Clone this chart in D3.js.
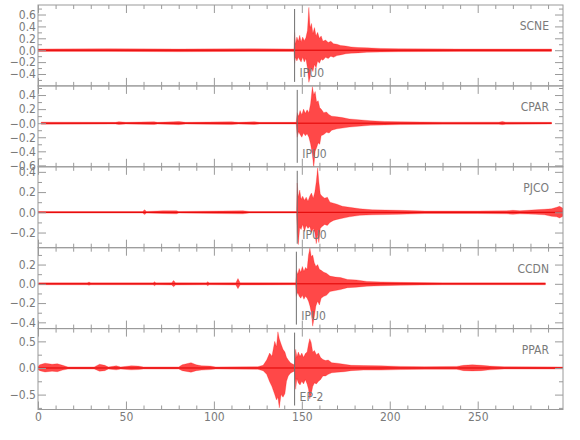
<!DOCTYPE html>
<html>
<head>
<meta charset="utf-8">
<script src="https://cdn.jsdelivr.net/npm/d3@7"></script>
<style>
  html, body { margin: 0; padding: 0; background: #fff; }
  svg { display: block; }
</style>
</head>
<body>
<script>
// station names and pick info, top to bottom
const stations = ["SCNE", "CPAR", "PJCO", "CCDN", "PPAR"];
const pickTimes = [145.9, 147.4, 147.4, 146.9, 145.9];
const pickLabels = ["IPU0", "IPU0", "IPU0", "IPU0", "EP-2"];

// y ranges and ticks of each panel
const yRanges = [[-0.6, 0.76], [-0.62, 0.53], [-0.35, 0.45], [-0.465, 0.375], [-0.78, 0.74]];
const yMajor = [
  [0.6, 0.4, 0.2, 0, -0.2, -0.4],
  [0.4, 0.2, 0, -0.2, -0.4, -0.6],
  [0.4, 0.2, 0, -0.2],
  [0.2, 0, -0.2, -0.4],
  [0.5, 0, -0.5]
];
const yTickLabels = [
  ["0.6", "0.4", "0.2", "0.0", "\u22120.2", "\u22120.4"],
  ["0.4", "0.2", "\u22120.0", "\u22120.2", "\u22120.4", "\u22120.6"],
  ["0.4", "0.2", "0.0", "\u22120.2"],
  ["0.2", "0.0", "\u22120.2", "\u22120.4"],
  ["0.5", "0.0", "\u22120.5"]
];
const yMinorStep = [0.1, 0.1, 0.1, 0.1, 0.25];

const xMajor = [0, 50, 100, 150, 200, 250];
const xTickLabels = ["0", "50", "100", "150", "200", "250"];

// trace envelopes: [time s, upper, lower]
const scne = [
  [0, 0.02, -0.02], [40, 0.025, -0.02], [80, 0.02, -0.025], [120, 0.025, -0.02], [145.5, 0.02, -0.02],
  [145.9, 0.3, -0.22], [146.4, 0.1, -0.12], [147.2, 0.22, -0.18], [148, 0.15, -0.12], [148.8, 0.25, -0.16],
  [149.6, 0.14, -0.2], [150.5, 0.22, -0.12], [151.4, 0.16, -0.2], [152.3, 0.21, -0.14], [153.2, 0.33, -0.3],
  [154, 0.72, -0.54], [154.7, 0.38, -0.46], [155.5, 0.45, -0.3], [156.3, 0.28, -0.36], [157.2, 0.38, -0.24],
  [158.1, 0.24, -0.3], [159, 0.3, -0.18], [160, 0.2, -0.22], [161, 0.24, -0.15], [162, 0.15, -0.17],
  [163.5, 0.17, -0.12], [165, 0.13, -0.14], [166.5, 0.15, -0.1], [168, 0.11, -0.12], [170, 0.1, -0.09],
  [172, 0.08, -0.08], [175, 0.07, -0.06], [178, 0.055, -0.05], [182, 0.045, -0.045], [187, 0.04, -0.035],
  [195, 0.03, -0.03], [205, 0.025, -0.025], [240, 0.02, -0.02], [292, 0.02, -0.02]
];
const cpar = [
  [1.8, 0.015, -0.015], [44, 0.012, -0.012], [46, 0.022, -0.02], [50, 0.012, -0.012], [66, 0.02, -0.02],
  [68, 0.012, -0.012], [77, 0.02, -0.018], [80, 0.025, -0.022], [84, 0.012, -0.012], [110, 0.02, -0.02],
  [114, 0.012, -0.012], [123, 0.02, -0.018], [126, 0.012, -0.012], [146.8, 0.012, -0.012],
  [147.4, 0.15, -0.2], [148.2, 0.1, -0.12], [149, 0.18, -0.16], [150, 0.12, -0.2], [151, 0.2, -0.14],
  [152, 0.14, -0.18], [153, 0.19, -0.15], [154, 0.15, -0.2], [155, 0.28, -0.3], [156, 0.52, -0.45],
  [156.8, 0.4, -0.63], [157.6, 0.45, -0.4], [158.4, 0.3, -0.35], [159.3, 0.32, -0.28], [160.2, 0.22, -0.3],
  [161, 0.2, -0.18], [162.5, 0.15, -0.16], [164, 0.16, -0.13], [165.5, 0.12, -0.14], [167, 0.1, -0.1],
  [170, 0.09, -0.08], [173, 0.08, -0.07], [177, 0.06, -0.055], [182, 0.05, -0.045], [189, 0.035, -0.03],
  [197, 0.025, -0.025], [206, 0.02, -0.02], [230, 0.015, -0.015], [262, 0.015, -0.015], [264, 0.025, -0.022],
  [266, 0.015, -0.015], [292, 0.012, -0.012]
];
const pjco = [
  [0, 0.008, -0.008], [59.5, 0.008, -0.008], [60.6, 0.025, -0.022], [61.7, 0.008, -0.008], [71, 0.015, -0.012],
  [78.8, 0.015, -0.015], [80, 0.008, -0.008], [116.5, 0.015, -0.015], [120, 0.008, -0.008], [147, 0.008, -0.008],
  [147.4, 0.29, -0.2], [148, 0.15, -0.32], [148.8, 0.22, -0.15], [149.6, 0.13, -0.17], [150.5, 0.16, -0.12],
  [151.5, 0.12, -0.19], [152.5, 0.15, -0.13], [153.5, 0.11, -0.16], [154.5, 0.16, -0.14], [155.5, 0.19, -0.2],
  [156.5, 0.14, -0.16], [157.4, 0.2, -0.2], [158.2, 0.3, -0.31], [159, 0.44, -0.22], [159.7, 0.3, -0.3],
  [160.5, 0.18, -0.16], [161.5, 0.16, -0.14], [163, 0.14, -0.12], [164.5, 0.15, -0.13], [166, 0.1, -0.1],
  [168, 0.09, -0.08], [170, 0.08, -0.07], [173, 0.06, -0.06], [177, 0.05, -0.045], [183, 0.035, -0.03],
  [190, 0.025, -0.025], [205, 0.02, -0.02], [220, 0.012, -0.012], [250, 0.012, -0.012], [266.5, 0.015, -0.015],
  [270, 0.02, -0.02], [274, 0.015, -0.015], [283, 0.025, -0.02], [288, 0.03, -0.025], [292, 0.035, -0.04],
  [295, 0.05, -0.045], [296.5, 0.06, -0.056], [298.5, 0.04, -0.04]
];
const ccdn = [
  [0.3, 0.01, -0.01], [28, 0.01, -0.01], [29, 0.018, -0.015], [30, 0.01, -0.01], [65.5, 0.01, -0.01],
  [66.3, 0.022, -0.02], [67, 0.01, -0.01], [76, 0.012, -0.012], [77.1, 0.035, -0.03], [78.2, 0.012, -0.012],
  [95.7, 0.01, -0.01], [96.5, 0.022, -0.02], [97.3, 0.01, -0.01], [112.5, 0.012, -0.012], [113.7, 0.055, -0.05],
  [114.9, 0.012, -0.012], [146.5, 0.01, -0.01],
  [146.9, 0.14, -0.13], [147.7, 0.1, -0.09], [148.5, 0.16, -0.13], [149.4, 0.12, -0.15], [150.3, 0.18, -0.12],
  [151.2, 0.13, -0.16], [152.1, 0.17, -0.13], [153, 0.15, -0.15], [153.8, 0.3, -0.18], [154.6, 0.37, -0.23],
  [155.4, 0.28, -0.3], [156.2, 0.3, -0.44], [157.1, 0.22, -0.34], [158, 0.18, -0.23], [159, 0.2, -0.18],
  [160, 0.15, -0.22], [161, 0.14, -0.15], [162.5, 0.12, -0.13], [164, 0.11, -0.12], [166, 0.08, -0.08],
  [169, 0.07, -0.07], [172, 0.065, -0.06], [176, 0.045, -0.04], [181, 0.04, -0.035], [187, 0.025, -0.025],
  [195, 0.02, -0.02], [206, 0.015, -0.015], [230, 0.01, -0.01], [288.5, 0.01, -0.01]
];
const ppar = [
  [0, 0.03, -0.03], [1, 0.06, -0.05], [4, 0.09, -0.075], [8, 0.07, -0.06], [11, 0.08, -0.07], [14, 0.05, -0.04],
  [17, 0.02, -0.02], [32, 0.02, -0.02], [35, 0.07, -0.06], [38, 0.05, -0.05], [40, 0.02, -0.02],
  [44.5, 0.04, -0.035], [47, 0.02, -0.02], [53, 0.04, -0.035], [57, 0.035, -0.03], [60, 0.02, -0.02],
  [80, 0.02, -0.02], [82, 0.06, -0.05], [87, 0.1, -0.08], [90, 0.06, -0.05], [93, 0.04, -0.04],
  [98, 0.035, -0.03], [101, 0.02, -0.02], [125, 0.025, -0.025], [128, 0.05, -0.05], [130, 0.15, -0.12],
  [131.7, 0.28, -0.26], [133, 0.22, -0.35], [134.6, 0.5, -0.5], [135.6, 0.4, -0.6], [136.4, 0.68, -0.55],
  [137.2, 0.55, -0.75], [138.2, 0.45, -0.5], [139.3, 0.35, -0.55], [140.4, 0.3, -0.48], [141.3, 0.2, -0.25],
  [142.3, 0.15, -0.15], [143.5, 0.1, -0.1], [145, 0.07, -0.07], [145.9, 0.06, -0.06],
  [146.5, 0.35, -0.4], [147.2, 0.2, -0.2], [148, 0.3, -0.28], [149, 0.22, -0.32], [150, 0.28, -0.25],
  [151, 0.2, -0.3], [152, 0.27, -0.22], [153, 0.3, -0.3], [153.8, 0.45, -0.4], [154.5, 0.55, -0.58],
  [155.3, 0.48, -0.5], [156.2, 0.3, -0.35], [157.2, 0.33, -0.28], [158.3, 0.25, -0.3], [159.5, 0.28, -0.25],
  [160.6, 0.2, -0.22], [162, 0.16, -0.15], [163.5, 0.14, -0.15], [165, 0.15, -0.12], [167, 0.1, -0.09],
  [170, 0.09, -0.08], [174, 0.07, -0.07], [178, 0.05, -0.05], [185, 0.045, -0.04], [195, 0.04, -0.04],
  [206, 0.03, -0.03], [220, 0.025, -0.025], [238, 0.03, -0.025], [242, 0.05, -0.05], [247, 0.06, -0.055],
  [252, 0.05, -0.05], [257, 0.035, -0.035], [265, 0.025, -0.02], [298.5, 0.02, -0.02]
];
const traces = [scne, cpar, pjco, ccdn, ppar];

const width = 580;
const height = 440;
const font = '"Liberation Sans Narrow", "DejaVu Sans Condensed", sans-serif';
const axisColor = "#9a9a9a";
const textColor = "#7a7a7a";

const top0 = 5, bottom0 = 409.5;
const panelH = (bottom0 - top0) / stations.length;

const svg = d3.select("body").append("svg")
  .attr("width", width)
  .attr("height", height)
  .style("background", "#fff");

const x = d3.scaleLinear().domain([0, 298.5]).range([38, 563]);
const xMinor = d3.range(0, 299, 10).filter(v => v % 50 !== 0);

const area = (y) => d3.area()
  .x(d => x(d[0]))
  .y0(d => y(d[2]))
  .y1(d => y(d[1]));

function styleAxis(g) {
  g.select(".domain").remove();
  g.selectAll("line").attr("stroke", axisColor);
  g.selectAll("text")
    .attr("fill", textColor)
    .style("font-family", font)
    .style("font-size", "12px");
}

stations.forEach((name, i) => {
  const top = top0 + i * panelH;
  const bot = top + panelH;
  const y = d3.scaleLinear().domain(yRanges[i]).range([bot, top]);
  const g = svg.append("g");

  const step = yMinorStep[i];
  const yMinor = d3.range(Math.ceil(yRanges[i][0] / step), Math.floor(yRanges[i][1] / step) + 1)
    .map(k => +(k * step).toFixed(3))
    .filter(v => !yMajor[i].some(m => Math.abs(m - v) < 1e-6));

  // clip trace to the panel
  g.append("clipPath").attr("id", "clip" + i)
    .append("rect").attr("x", x.range()[0]).attr("y", top)
    .attr("width", x.range()[1] - x.range()[0]).attr("height", panelH);

  const data = traces[i];
  const tr = g.append("g").attr("clip-path", "url(#clip" + i + ")");
  tr.append("path")
    .datum(data)
    .attr("d", area(y))
    .attr("fill", "#ff1a1a")
    .attr("fill-opacity", 0.8)
    .attr("stroke", "#ff0000")
    .attr("stroke-opacity", 0.4)
    .attr("stroke-width", 0.6);
  tr.append("line")
    .attr("x1", x(data[0][0])).attr("x2", x(data[data.length - 1][0]))
    .attr("y1", y(0)).attr("y2", y(0))
    .attr("stroke", "#e00000").attr("stroke-width", 1);

  // pick line and label
  g.append("line")
    .attr("x1", x(pickTimes[i])).attr("x2", x(pickTimes[i]))
    .attr("y1", top + 4).attr("y2", bot - 4)
    .attr("stroke", "#707070").attr("stroke-width", 1);
  g.append("text")
    .attr("x", x(pickTimes[i]) + 5).attr("y", bot - 9)
    .attr("fill", textColor)
    .style("font-family", font).style("font-size", "12px")
    .text(pickLabels[i]);

  // station name
  g.append("text")
    .attr("x", 549).attr("y", top + 25)
    .attr("text-anchor", "end")
    .attr("fill", textColor)
    .style("font-family", font).style("font-size", "12px")
    .text(name);

  // box
  g.append("rect")
    .attr("x", x.range()[0]).attr("y", top)
    .attr("width", x.range()[1] - x.range()[0]).attr("height", panelH)
    .attr("fill", "none").attr("stroke", axisColor);

  // y ticks, left and right
  g.append("g").attr("transform", `translate(${x.range()[0]},0)`)
    .call(d3.axisLeft(y).tickValues(yMajor[i]).tickSize(-8).tickPadding(2)
      .tickFormat((d, k) => yTickLabels[i][k]))
    .call(styleAxis);
  g.append("g").attr("transform", `translate(${x.range()[0]},0)`)
    .call(d3.axisLeft(y).tickValues(yMinor).tickSize(-4).tickFormat(""))
    .call(styleAxis);
  g.append("g").attr("transform", `translate(${x.range()[1]},0)`)
    .call(d3.axisRight(y).tickValues(yMajor[i]).tickSize(-8).tickFormat(""))
    .call(styleAxis);
  g.append("g").attr("transform", `translate(${x.range()[1]},0)`)
    .call(d3.axisRight(y).tickValues(yMinor).tickSize(-4).tickFormat(""))
    .call(styleAxis);

  // x ticks, top and bottom
  g.append("g").attr("transform", `translate(0,${top})`)
    .call(d3.axisTop(x).tickValues(xMajor).tickSize(-8).tickFormat(""))
    .call(styleAxis);
  g.append("g").attr("transform", `translate(0,${top})`)
    .call(d3.axisTop(x).tickValues(xMinor).tickSize(-4).tickFormat(""))
    .call(styleAxis);
  const last = i === stations.length - 1;
  g.append("g").attr("transform", `translate(0,${bot})`)
    .call(d3.axisBottom(x).tickValues(xMajor).tickSize(-8).tickPadding(3)
      .tickFormat((d, k) => last ? xTickLabels[k] : ""))
    .call(styleAxis);
  g.append("g").attr("transform", `translate(0,${bot})`)
    .call(d3.axisBottom(x).tickValues(xMinor).tickSize(-4).tickFormat(""))
    .call(styleAxis);
});
</script>
</body>
</html>
